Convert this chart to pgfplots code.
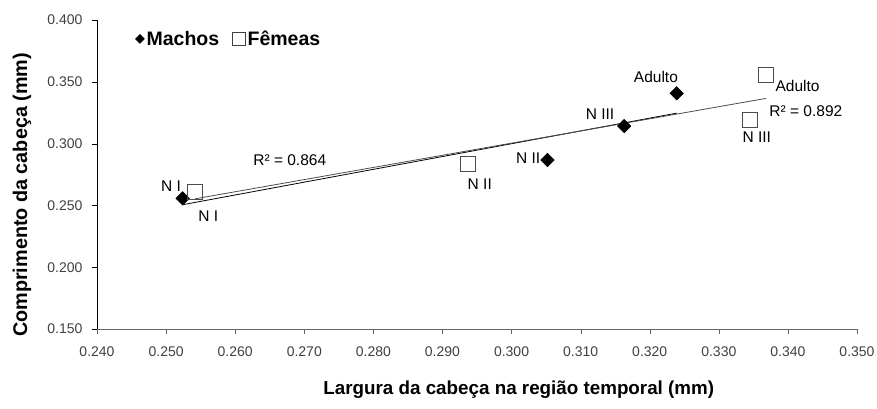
\documentclass[border=0pt]{standalone}
\usepackage{pgfplots}
\usepackage{pgfplotstable}
\pgfplotsset{compat=1.18}
\usepackage{fontspec}
\setmainfont{Liberation Sans}

\pgfplotstableread{
x y
0.2524 0.2557
0.3052 0.2867
0.3163 0.3142
0.3239 0.3407
}\machos
\pgfplotstableread{
x y
0.2542 0.2611
0.2937 0.2840
0.3344 0.3191
0.3368 0.3561
}\femeas

\begin{document}
\begin{tikzpicture}[x=1pt,y=1pt]
\useasboundingbox (-97,-79) rectangle (780,329);
\begin{axis}[
  at={(0,0)}, anchor=south west,
  scale only axis, width=760pt, height=309pt,
  xmin=0.24, xmax=0.35, ymin=0.15, ymax=0.40,
  xtick={0.24,0.25,0.26,0.27,0.28,0.29,0.30,0.31,0.32,0.33,0.34,0.35},
  ytick={0.15,0.20,0.25,0.30,0.35,0.40},
  axis lines=left,
  x axis line style={-, black!60},
  y axis line style={-, black},
  tick align=outside, major tick length=5pt,
  xtick style={black!60}, ytick style={black},
  /pgf/number format/.cd, fixed, fixed zerofill, precision=3, assume math mode=true,
  /pgfplots/.cd,
  tick label style={font=\fontsize{14}{15}\selectfont, color=black!75},
  xticklabel style={yshift=-9pt},
  yticklabel style={xshift=-6pt},
  xlabel={Largura da cabeça na região temporal (mm)},
  ylabel={Comprimento da cabeça (mm)},
  xlabel style={font=\bfseries\fontsize{18.8}{19}\selectfont,
    at={(axis description cs:0.555,0)}, anchor=center, yshift=-61pt},
  ylabel style={font=\bfseries\fontsize{19.8}{20}\selectfont,
    at={(axis description cs:-0.0987,0.434)}, anchor=center},
  clip=false,
  legend style={at={(axis description cs:0.05,0.972)}, anchor=north west,
    draw=none, fill=none, font=\bfseries\fontsize{19.5}{20}\selectfont,
    inner sep=0pt, /tikz/every even column/.append style={column sep=11pt}},
  legend columns=2,
  legend cell align=left,
]
\addlegendimage{legend image code/.code={\fill[black] (0.3cm,0) ++(-4.5pt,0) -- ++(4.5pt,4.5pt) -- ++(4.5pt,-4.5pt) -- ++(-4.5pt,-4.5pt) -- cycle;}}
\addlegendentry{Machos}
\addlegendimage{legend image code/.code={\draw[black!75, fill=white] (0.3cm-6.5pt,-6.5pt) rectangle (0.3cm+6.5pt,6.5pt);}}
\addlegendentry{Fêmeas}

\addplot[only marks, mark=square*, mark size=4.8pt,
  mark options={rotate=45, fill=black, draw=black}, forget plot]
  table[x=x, y=y]{\machos};
\addplot[only marks, mark=square, mark size=7.5pt,
  mark options={draw=black!70, fill=white}, forget plot]
  table[x=x, y=y]{\femeas};

\addplot[black, line width=0.8pt, no marks, forget plot]
  table[x=x, y={create col/linear regression={y=y}}]{\machos};
\addplot[black!70, line width=0.8pt, no marks, forget plot]
  table[x=x, y={create col/linear regression={y=y}}]{\femeas};

\begin{scope}[every node/.style={font=\fontsize{15.5}{16}\selectfont, inner sep=0pt}]
\node at (axis cs:0.2507,0.2657) {N I};
\node at (axis cs:0.2561,0.2414) {N I};
\node at (axis cs:0.2679,0.2867) {R² = 0.864};
\node at (axis cs:0.2954,0.2673) {N II};
\node at (axis cs:0.3024,0.2883) {N II};
\node at (axis cs:0.3128,0.3239) {N III};
\node at (axis cs:0.3209,0.3539) {Adulto};
\node at (axis cs:0.3414,0.3466) {Adulto};
\node at (axis cs:0.3426,0.3264) {R² = 0.892};
\node at (axis cs:0.3355,0.3053) {N III};
\end{scope}
\end{axis}
\end{tikzpicture}
\end{document}
